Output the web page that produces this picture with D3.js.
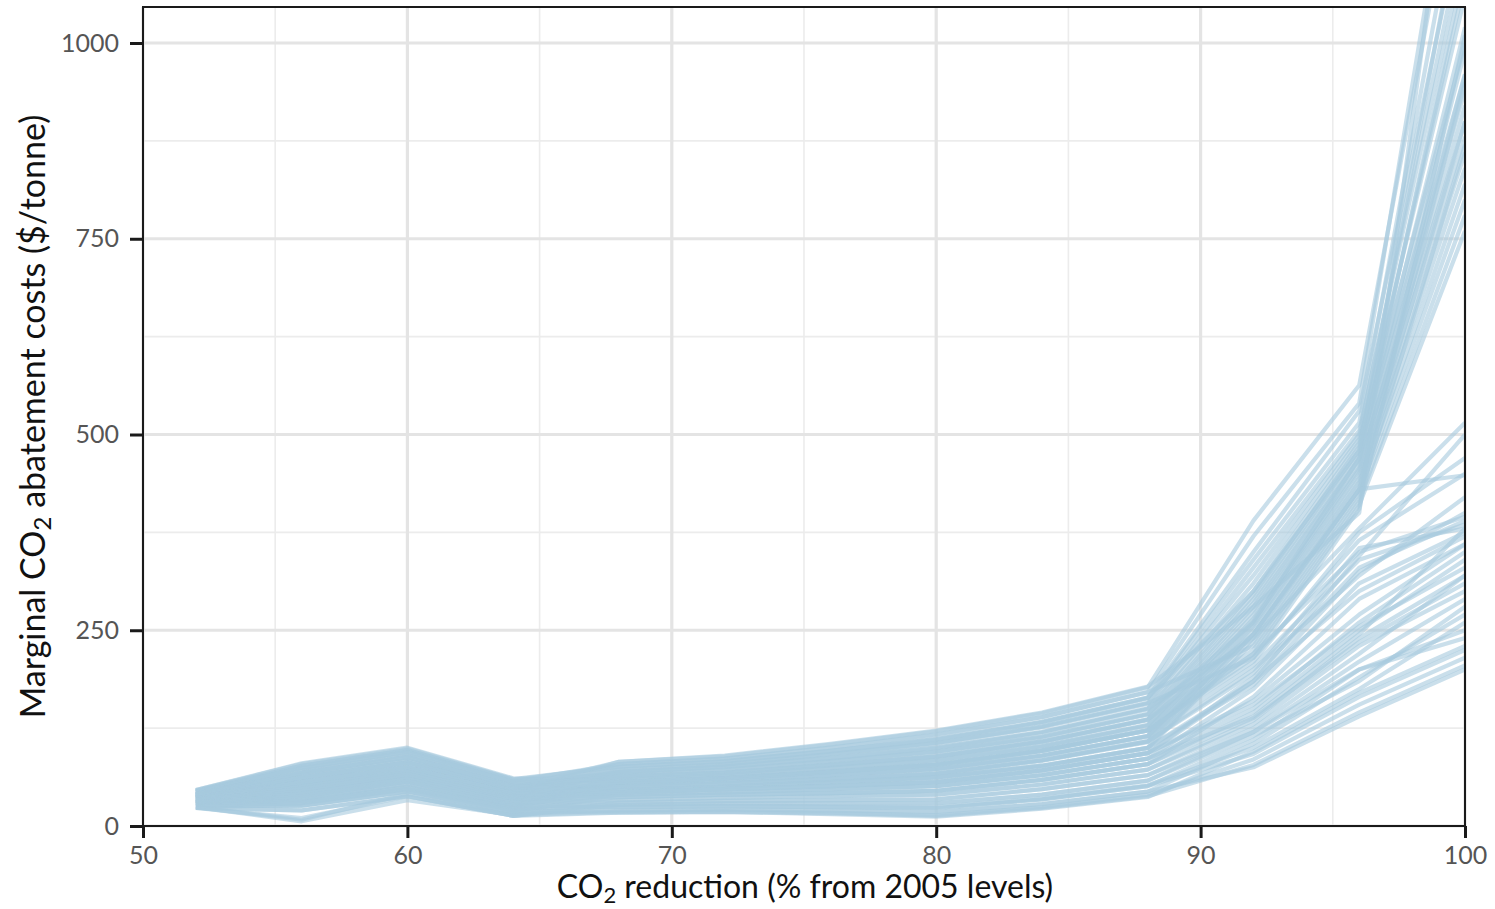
<!DOCTYPE html>
<html>
<head>
<meta charset="utf-8">
<script src="https://cdn.jsdelivr.net/npm/d3@7"></script>
<style>
  html, body { margin: 0; padding: 0; background: #fff; }
  svg { display: block; }
  text { font-family: Lato, "Open Sans", sans-serif; }
</style>
</head>
<body>
<svg id="chart" width="1495" height="909"></svg>
<script>
// CO2 reduction levels (% from 2005) at which each scenario was solved
const reductionLevels = [52, 56, 60, 64, 68, 72, 76, 80, 84, 88, 92, 96, 100];

// Tick labels
const xTicks = [50, 60, 70, 80, 90, 100];
const xMinorTicks = [55, 65, 75, 85, 95];
const yTicks = [0, 250, 500, 750, 1000];
const yMinorTicks = [125, 375, 625, 875];

// Marginal abatement cost curves ($/tonne), one row per scenario.
// Scenarios whose costs climb steeply near full decarbonisation
const steepRuns = [
  [37, 57, 75, 43, 82, 89, 104, 121, 144, 177, 390, 563, 1290],
  [44, 74, 95, 57, 79, 86, 100, 117, 139, 171, 370, 540, 1350],
  [35, 51, 69, 38, 76, 83, 96, 111, 133, 164, 350, 530, 1180],
  [46, 79, 99, 60, 76, 82, 95, 110, 132, 163, 340, 515, 1240],
  [39, 62, 81, 47, 72, 79, 92, 106, 127, 157, 330, 505, 1120],
  [32, 45, 63, 33, 71, 78, 91, 105, 126, 156, 320, 500, 1150],
  [41, 68, 88, 51, 69, 76, 87, 100, 120, 150, 310, 495, 1060],
  [36, 53, 72, 39, 68, 75, 86, 99, 119, 149, 300, 490, 1000],
  [45, 77, 97, 59, 66, 72, 83, 95, 114, 143, 295, 485, 1080],
  [31, 41, 60, 30, 65, 71, 82, 94, 113, 142, 290, 480, 960],
  [38, 59, 78, 44, 63, 68, 78, 89, 108, 136, 285, 475, 1020],
  [43, 71, 91, 54, 62, 67, 77, 88, 107, 135, 280, 470, 940],
  [33, 47, 66, 35, 59, 65, 74, 84, 102, 129, 275, 468, 990],
  [40, 65, 84, 49, 60, 64, 73, 83, 101, 128, 270, 462, 900],
  [30, 38, 57, 27, 56, 61, 69, 78, 96, 122, 265, 458, 920],
  [46, 80, 100, 61, 57, 62, 70, 79, 97, 123, 262, 455, 880],
  [37, 56, 75, 42, 53, 58, 65, 73, 90, 115, 258, 450, 960],
  [28, 32, 50, 23, 52, 57, 64, 72, 89, 114, 255, 445, 860],
  [41, 68, 88, 51, 50, 54, 60, 67, 84, 108, 250, 440, 840],
  [35, 50, 69, 37, 49, 53, 59, 66, 83, 107, 245, 436, 900],
  [44, 74, 94, 56, 46, 50, 56, 62, 77, 100, 240, 430, 820],
  [32, 44, 63, 32, 45, 49, 55, 61, 76, 99, 235, 425, 800],
  [39, 62, 81, 47, 79, 86, 100, 116, 139, 171, 230, 420, 870],
  [29, 35, 54, 25, 63, 68, 78, 89, 108, 136, 225, 415, 780],
  [36, 53, 72, 39, 56, 61, 69, 78, 96, 122, 220, 410, 760],
  [43, 71, 91, 54, 72, 79, 92, 106, 127, 157, 215, 405, 1010],
  [38, 59, 78, 44, 66, 72, 83, 95, 114, 143, 260, 470, 1100],
  [45, 77, 97, 59, 76, 83, 96, 111, 133, 164, 300, 480, 1200],
  [33, 47, 66, 35, 53, 58, 65, 73, 90, 115, 245, 430, 950],
  [40, 65, 84, 49, 82, 90, 105, 122, 145, 178, 280, 400, 1400]
];

// Scenarios levelling off between roughly 350 and 520 $/tonne
const moderateRuns = [
  [37, 56, 75, 42, 69, 76, 87, 100, 120, 150, 240, 380, 515],
  [30, 38, 57, 27, 56, 61, 69, 78, 96, 122, 215, 365, 450],
  [41, 68, 88, 51, 63, 68, 78, 89, 108, 136, 245, 430, 448],
  [28, 32, 50, 23, 43, 47, 51, 56, 71, 93, 190, 330, 390],
  [39, 62, 81, 47, 53, 58, 65, 73, 90, 115, 205, 340, 385],
  [25, 26, 44, 18, 40, 43, 47, 51, 65, 86, 175, 310, 375],
  [44, 74, 94, 56, 59, 65, 74, 84, 102, 129, 220, 350, 395],
  [32, 44, 63, 32, 46, 50, 56, 62, 77, 100, 185, 300, 370],
  [26, 29, 47, 20, 37, 40, 42, 45, 59, 79, 165, 290, 360],
  [35, 50, 69, 37, 50, 54, 60, 67, 84, 108, 200, 320, 420],
  [31, 41, 60, 30, 43, 47, 51, 56, 71, 93, 185, 345, 500],
  [40, 65, 84, 49, 56, 61, 69, 78, 96, 122, 210, 375, 470],
  [36, 53, 72, 39, 50, 54, 60, 67, 84, 108, 195, 355, 380],
  [29, 35, 54, 25, 46, 50, 56, 62, 77, 100, 180, 325, 400]
];

// Low-cost scenarios
const lowRuns = [
  [30, 38, 57, 27, 40, 43, 47, 51, 65, 86, 150, 260, 350],
  [25, 26, 44, 18, 33, 36, 38, 40, 53, 72, 135, 240, 320],
  [23, 20, 38, 13, 27, 29, 29, 29, 40, 58, 120, 210, 290],
  [24, 8, 41, 15, 20, 21, 20, 18, 28, 44, 105, 190, 270],
  [35, 50, 69, 37, 43, 47, 51, 56, 71, 93, 160, 270, 360],
  [28, 32, 50, 23, 24, 25, 24, 23, 34, 51, 110, 200, 250],
  [37, 56, 75, 42, 37, 40, 42, 45, 59, 79, 145, 250, 340],
  [26, 29, 47, 20, 17, 18, 15, 12, 22, 37, 95, 170, 230],
  [23, 10, 38, 13, 17, 18, 16, 14, 24, 40, 85, 155, 215],
  [32, 44, 63, 32, 30, 32, 33, 34, 47, 65, 125, 220, 320],
  [29, 35, 54, 25, 27, 29, 29, 29, 40, 58, 115, 185, 280],
  [24, 6, 33, 14, 18, 19, 17, 13, 23, 38, 78, 145, 205],
  [39, 62, 81, 47, 40, 43, 47, 51, 65, 86, 140, 245, 380],
  [27, 30, 48, 22, 25, 26, 25, 24, 35, 52, 100, 175, 260],
  [25, 26, 44, 18, 20, 21, 20, 18, 28, 44, 75, 140, 200],
  [41, 68, 88, 51, 43, 47, 51, 56, 71, 93, 155, 255, 330],
  [31, 41, 60, 30, 33, 36, 38, 40, 53, 72, 130, 230, 300],
  [33, 47, 66, 35, 37, 40, 42, 45, 59, 79, 138, 235, 310],
  [23, 20, 38, 13, 30, 32, 33, 34, 47, 65, 120, 200, 240],
  [30, 38, 57, 27, 24, 25, 24, 23, 34, 51, 92, 165, 225]
];

const runs = [...steepRuns, ...moderateRuns, ...lowRuns];

const W = 1495, H = 909;
const margin = { top: 7, right: 30, bottom: 83, left: 143 };
const innerW = W - margin.left - margin.right;
const innerH = H - margin.top - margin.bottom;

const svg = d3.select("#chart");
const g = svg.append("g").attr("transform", `translate(${margin.left},${margin.top})`);

const x = d3.scaleLinear().domain([50, 100]).range([0, innerW]);
const y = d3.scaleLinear().domain([0, 1046]).range([innerH, 0]);

// grid
const grid = g.append("g");
grid.selectAll(".ymin").data(yMinorTicks).join("line")
  .attr("x1", 0).attr("x2", innerW)
  .attr("y1", d => y(d)).attr("y2", d => y(d))
  .attr("stroke", "#ececec").attr("stroke-width", 1.6);
grid.selectAll(".xmin").data(xMinorTicks).join("line")
  .attr("y1", 0).attr("y2", innerH)
  .attr("x1", d => x(d)).attr("x2", d => x(d))
  .attr("stroke", "#ececec").attr("stroke-width", 1.6);
grid.selectAll(".ymaj").data(yTicks).join("line")
  .attr("x1", 0).attr("x2", innerW)
  .attr("y1", d => y(d)).attr("y2", d => y(d))
  .attr("stroke", "#e4e4e4").attr("stroke-width", 3.2);
grid.selectAll(".xmaj").data(xTicks).join("line")
  .attr("y1", 0).attr("y2", innerH)
  .attr("x1", d => x(d)).attr("x2", d => x(d))
  .attr("stroke", "#e4e4e4").attr("stroke-width", 3.2);

// curves
svg.append("defs").append("clipPath").attr("id", "plot-clip")
  .append("rect").attr("width", innerW).attr("height", innerH);

const line = d3.line()
  .x((d, i) => x(reductionLevels[i]))
  .y(d => y(d));

g.append("g").attr("clip-path", "url(#plot-clip)")
  .selectAll("path").data(runs).join("path")
  .attr("d", line)
  .attr("fill", "none")
  .attr("stroke", "#a6c9dd")
  .attr("stroke-opacity", 0.6)
  .attr("stroke-width", 4.2)
  .attr("stroke-linejoin", "round");

// panel border
g.append("rect").attr("width", innerW).attr("height", innerH)
  .attr("fill", "none").attr("stroke", "#1a1a1a").attr("stroke-width", 2);

// axes
const xAxis = g.append("g").attr("transform", `translate(0,${innerH})`)
  .call(d3.axisBottom(x).tickValues(xTicks).tickSize(12).tickPadding(8).tickFormat(d3.format("d")));
const yAxis = g.append("g")
  .call(d3.axisLeft(y).tickValues(yTicks).tickSize(13).tickPadding(11).tickFormat(d3.format("d")));
[xAxis, yAxis].forEach(a => {
  a.select(".domain").remove();
  a.selectAll(".tick line").attr("stroke", "#1a1a1a").attr("stroke-width", 3);
  a.selectAll(".tick text").attr("fill", "#555")
    .style("font-size", "25px").style("font-weight", 400)
    .style("font-family", "Lato, sans-serif");
});

// axis titles with subscripted 2
const xTitle = svg.append("text")
  .attr("x", margin.left + innerW / 2 + 1).attr("y", 898)
  .attr("text-anchor", "middle").attr("fill", "#111")
  .style("font-size", "32px");
xTitle.append("tspan").text("CO");
xTitle.append("tspan").text("2").attr("dy", 5).style("font-size", "22px");
xTitle.append("tspan").text(" reduction (% from 2005 levels)").attr("dy", -5);

const yTitle = svg.append("text")
  .attr("transform", `translate(45,${margin.top + innerH / 2}) rotate(-90)`)
  .attr("text-anchor", "middle").attr("fill", "#111")
  .style("font-size", "34px");
yTitle.append("tspan").text("Marginal CO");
yTitle.append("tspan").text("2").attr("dy", 6).style("font-size", "24px");
yTitle.append("tspan").text(" abatement costs ($/tonne)").attr("dy", -6);
</script>
</body>
</html>
